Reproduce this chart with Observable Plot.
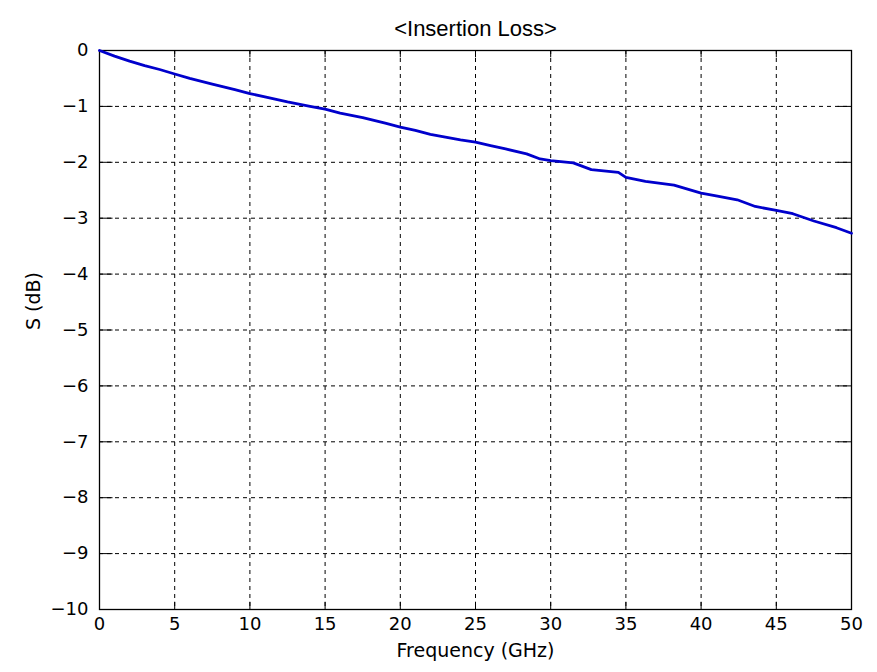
<!DOCTYPE html>
<html><head><meta charset="utf-8">
<script src="https://cdn.jsdelivr.net/npm/d3@7"></script>
<script src="https://cdn.jsdelivr.net/npm/@observablehq/plot@0.6"></script>
<style>body{margin:0;background:#fff}</style>
</head><body><div id="chart"></div>
<script>
const title = "<Insertion Loss>";
const xLabel = "Frequency (GHz)";
const yLabel = "S (dB)";
const xTicks = [0,5,10,15,20,25,30,35,40,45,50];
const yTicks = [0,-1,-2,-3,-4,-5,-6,-7,-8,-9,-10];
const freq = [0,1,2,3,4,5,6,7.5,9,10,11,12.5,14,15,16,17.5,19,20,21,22,23,24,25,26,27,28.4,29.3,30,31.5,32.7,34.5,35,36.3,38.2,40,41,42.4,43.6,45,46.1,47.5,49,50];
const sdb  = [0,-0.1,-0.19,-0.27,-0.34,-0.42,-0.5,-0.6,-0.7,-0.77,-0.83,-0.92,-1.0,-1.05,-1.12,-1.2,-1.3,-1.37,-1.43,-1.5,-1.55,-1.6,-1.64,-1.7,-1.76,-1.85,-1.94,-1.97,-2.01,-2.13,-2.18,-2.27,-2.34,-2.41,-2.55,-2.6,-2.67,-2.79,-2.86,-2.92,-3.05,-3.17,-3.27];
const data = freq.map((f,i)=>({f, s: sdb[i]}));
const font = "DejaVu Sans, sans-serif";
const tk = 0.13, tkx = 0.9;
const chart = Plot.plot({
  width: 877, height: 672,
  marginLeft: 99, marginRight: 26, marginTop: 50, marginBottom: 63,
  style: {fontFamily: font, fontSize: "18px", color: "#000", background: "#fff"},
  x: {domain: [0,50], ticks: xTicks},
  y: {domain: [-10,0], ticks: yTicks},
  marks: [
    Plot.gridX(xTicks, {stroke: "#000", strokeOpacity: 1, strokeDasharray: "4,4", strokeWidth: 1}),
    Plot.gridY(yTicks, {stroke: "#000", strokeOpacity: 1, strokeDasharray: "4,4", strokeWidth: 1}),
    Plot.ruleX(xTicks, {y1: -10, y2: -10 + tk, stroke: "#000"}),
    Plot.ruleX(xTicks, {y1: 0, y2: -tk, stroke: "#000"}),
    Plot.ruleY(yTicks, {x1: 0, x2: tkx, stroke: "#000"}),
    Plot.ruleY(yTicks, {x1: 50, x2: 50 - tkx, stroke: "#000"}),
    Plot.frame({stroke: "#000", strokeWidth: 1.3}),
    Plot.axisX(xTicks, {tickSize: 0, tickPadding: 8, fontSize: 18, label: null}),
    Plot.axisY(yTicks, {tickSize: 0, tickPadding: 11, fontSize: 18, label: null, tickFormat: d => d < 0 ? "\u2212" + (-d) : String(d)}),
    Plot.line(data, {x: "f", y: "s", stroke: "#0000cc", strokeWidth: 2.8}),
    Plot.text([title], {frameAnchor: "top", dy: -30, fontSize: 22, fontFamily: "Liberation Sans, Arial, sans-serif"}),
    Plot.text([xLabel], {frameAnchor: "bottom", dy: 47, fontSize: 19}),
    Plot.text([yLabel], {frameAnchor: "left", dx: -66, rotate: -90, fontSize: 19})
  ]
});
document.getElementById("chart").append(chart);
</script>
</body></html>
